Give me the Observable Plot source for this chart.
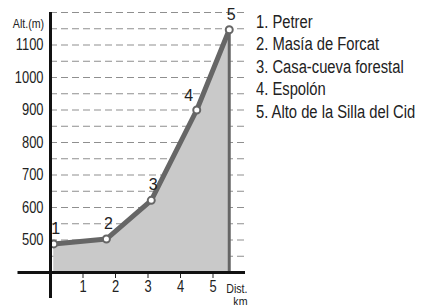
<!DOCTYPE html>
<html><head><meta charset="utf-8">
<script src="https://cdn.jsdelivr.net/npm/d3@7"></script>
<script src="https://cdn.jsdelivr.net/npm/@observablehq/plot@0.6"></script>
<style>
body{margin:0;background:#fff;font-family:"Liberation Sans",Arial,sans-serif;}
#wrap{position:relative;width:422px;height:305px;overflow:hidden;}
#legend{position:absolute;left:256px;top:10.8px;font-size:18px;line-height:22.5px;color:#222;transform:scaleX(0.82);transform-origin:0 0;white-space:nowrap;}
</style></head>
<body><div id="wrap"><div id="chart"></div><div id="legend"></div></div>
<script>
const stops = ["1", "2", "3", "4", "5"];
const names = ["Petrer", "Masía de Forcat", "Casa-cueva forestal", "Espolón", "Alto de la Silla del Cid"];
const dist = [0.1, 1.72, 3.1, 4.5, 5.5];
const alt = [488, 503, 622, 900, 1147];
const yTicks = [500, 600, 700, 800, 900, 1000, 1100];
const xTicks = [1, 2, 3, 4, 5];
const gridLevels = [450, 500, 550, 600, 650, 700, 750, 800, 850, 900, 950, 1000, 1050, 1100, 1150, 1200];

const data = stops.map((s, i) => ({stop: s, name: names[i], d: dist[i], a: alt[i]}));
const last = data[data.length - 1];
const font = '"Liberation Sans",Arial,sans-serif';

const chart = Plot.plot({
  width: 250, height: 305,
  marginLeft: 50, marginRight: 5, marginTop: 12, marginBottom: 33,
  style: {fontFamily: font, fontSize: "16px", color: "#222", background: "transparent", overflow: "visible"},
  x: {domain: [0, 6], label: null},
  y: {domain: [400, 1200], label: null},
  marks: [
    Plot.ruleY(gridLevels, {x1: 0, x2: 6, stroke: "#8f8f8f", strokeWidth: 1, strokeDasharray: "7,4"}),
    Plot.areaY(data, {x: "d", y1: 400, y2: "a", fill: "#c9c9c9"}),
    Plot.ruleX([last], {x: "d", y1: 400, y2: "a", stroke: "#666", strokeWidth: 3}),
    Plot.line(data, {x: "d", y: "a", stroke: "#666", strokeWidth: 5}),
    Plot.dot(data, {x: "d", y: "a", r: 3.5, fill: "#fff", stroke: "#666", strokeWidth: 2}),
    Plot.text(data.filter(d => d.stop !== "4"), {x: "d", y: "a", text: "stop", dy: -15, dx: 2, fontSize: 16, fill: "#222"}),
    Plot.text(data.filter(d => d.stop === "4"), {x: "d", y: "a", text: "stop", dy: -14, dx: -8, fontSize: 16, fill: "#222"}),
    Plot.axisY({ticks: yTicks, tickFormat: d3.format("d"), tickSize: 0, tickPadding: 7, label: null, fontSize: 17}),
    Plot.axisX({ticks: xTicks, tickFormat: d3.format("d"), tickSize: 6, tickPadding: 1, label: null, fontSize: 17}),
    Plot.ruleX([0], {y1: 320, y2: 1200, stroke: "#111", strokeWidth: 3}),
    Plot.ruleY([400], {x1: -1, x2: 6, stroke: "#111", strokeWidth: 3}),
    Plot.text(["Alt.(m)"], {frameAnchor: "top-left", dx: -22, dy: 7, textAnchor: "middle", fontSize: 12.5, fill: "#222"}),
    Plot.text(["Dist.\nkm"], {frameAnchor: "bottom-right", dx: 2, dy: 12, textAnchor: "end", lineAnchor: "top", fontSize: 12.5, lineHeight: 1.0, fill: "#222"})
  ]
});
function squeeze(t, s) {
  const tr = t.getAttribute("transform");
  if (tr && !t.hasAttribute("x")) t.setAttribute("transform", tr + ` scale(${s},1)`);
}
chart.querySelectorAll('g[aria-label$="tick label"] text').forEach(t => squeeze(t, 0.76));
chart.querySelectorAll("text").forEach(t => {
  const s = t.textContent;
  if (s.startsWith("Alt.") || s.startsWith("Dist.")) squeeze(t, 0.85);
});
document.getElementById("chart").appendChild(chart);
const lg = document.getElementById("legend");
data.forEach(d => { const el = document.createElement("div"); el.textContent = d.stop + ". " + d.name; lg.appendChild(el); });
</script></body></html>
